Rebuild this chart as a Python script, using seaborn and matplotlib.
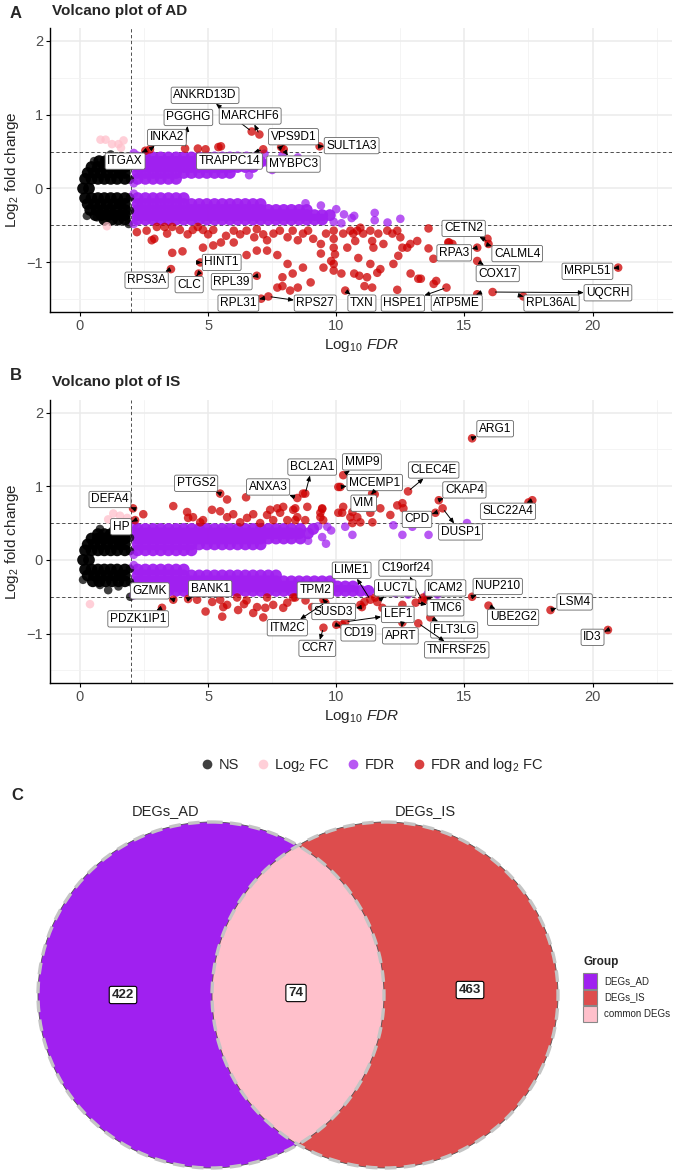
"""Volcano plots for AD / IS and Venn diagram of shared DEGs."""

import matplotlib
matplotlib.use("Agg")
import matplotlib.pyplot as plt
import pandas as pd
import seaborn as sns
from matplotlib.lines import Line2D
from matplotlib.patches import Circle, Rectangle


# ---------------- data ----------------
GROUPS = ["NS", "Log2 FC", "FDR", "FDR and log2 FC"]
GROUP_COLORS = ["black", "pink", "#A020F0", "#CD0000"]
LEGEND_LABELS = ["NS", "Log$_2$ FC", "FDR", "FDR and log$_2$ FC"]

# panel A (AD): dense cloud as rows {log2FC: [log10 FDR, ...]}
AD_NS_ROWS = {
    0.0: [0.12, 0.35],
    0.13: [0.2, 0.45, 0.7, 0.95, 1.2, 1.45, 1.75],
    -0.13: [0.2, 0.45, 0.7, 0.95, 1.2, 1.45, 1.75],
    0.21: [0.3, 0.55, 0.8, 1.05, 1.3, 1.55, 1.75],
    -0.21: [0.3, 0.55, 0.8, 1.05, 1.3, 1.55, 1.75],
    0.29: [0.45, 0.7, 0.95, 1.2, 1.45, 1.75],
    -0.29: [0.4, 0.65, 0.9, 1.15, 1.4, 1.75],
    0.37: [0.75, 1.0, 1.3, 1.55, 1.75],
    -0.36: [0.6, 0.85, 1.1, 1.35, 1.6, 1.75],
    -0.42: [0.95, 1.25, 1.5, 1.75],
}
AD_NS_EXTRA = [(0.27, -0.37), (0.66, -0.39), (1.2, 0.46), (1.9, 0.43),
               (1.9, -0.48), (1.95, 0.12), (1.95, -0.12), (1.95, 0.3),
               (1.95, -0.3), (0.55, 0.37), (1.6, 0.44)]
AD_PINK = [(0.8, 0.66), (1.0, 0.66), (1.25, 0.6), (1.5, 0.6), (1.7, 0.65),
           (1.6, 0.55), (1.05, -0.51)]
AD_FDR_ROWS = {
    0.13: [2.25, 2.55, 2.85, 3.15, 3.45, 3.75],
    0.21: [2.25, 2.55, 2.85, 3.15, 3.45, 3.75, 4.05, 4.35, 4.65, 4.95, 5.25,
           5.55, 5.85],
    0.29: [2.25, 2.55, 2.85, 3.15, 3.45, 3.75, 4.05, 4.35, 4.65, 4.95, 5.25,
           5.55, 5.85, 6.15, 6.45, 6.75],
    0.36: [2.25, 2.55, 2.85, 3.15, 3.45, 3.75, 4.05, 4.35, 4.65, 4.95, 5.25,
           5.55, 5.85, 6.15, 6.45, 6.75, 7.05],
    0.42: [2.25, 2.55, 2.85, 3.15, 3.45, 3.75, 4.05, 4.35, 4.65, 4.95, 5.25,
           5.55, 5.85, 6.15, 6.5, 6.9],
    -0.13: [2.25, 2.55, 2.85, 3.15, 3.45, 3.75, 4.05],
    -0.21: [2.25, 2.55, 2.85, 3.15, 3.45, 3.75, 4.05, 4.35, 4.65, 4.95, 5.25,
            5.55, 5.85, 6.15, 6.45, 6.75, 7.05],
    -0.29: [2.25, 2.55, 2.85, 3.15, 3.45, 3.75, 4.05, 4.35, 4.65, 4.95, 5.25,
            5.55, 5.85, 6.15, 6.45, 6.75, 7.05, 7.35, 7.65, 7.95, 8.25, 8.55,
            8.85],
    -0.36: [2.25, 2.55, 2.85, 3.15, 3.45, 3.75, 4.05, 4.35, 4.65, 4.95, 5.25,
            5.55, 5.85, 6.15, 6.45, 6.75, 7.05, 7.35, 7.65, 7.95, 8.25, 8.55,
            8.85, 9.15, 9.45, 9.75],
    -0.42: [2.25, 2.55, 2.85, 3.15, 3.45, 3.75, 4.05, 4.35, 4.65, 4.95, 5.25,
            5.55, 5.85, 6.15, 6.45, 6.75, 7.05, 7.35, 7.65, 7.95, 8.25, 8.55,
            8.85, 9.15, 9.45],
}
AD_FDR_EXTRA = [(7.3, 0.35), (7.9, 0.45), (8.2, 0.33), (7.5, 0.25),
                (8.5, 0.42), (7.2, 0.47), (6.6, 0.18), (10.3, -0.35),
                (10.6, -0.4), (11.5, -0.33), (12.5, -0.41), (12.0, -0.46),
                (10.0, -0.28), (9.9, -0.45), (10.7, -0.37), (11.5, -0.43),
                (10.2, -0.47), (9.4, -0.23), (8.8, -0.2), (2.1, 0.48),
                (2.1, -0.48), (2.1, 0.07), (2.1, -0.07)]
AD_RED = [
    (2.73, 0.53), (2.55, 0.51), (4.1, 0.54), (4.6, 0.54), (4.9, 0.53),
    (5.4, 0.56), (5.5, 0.57), (6.7, 0.77), (7.0, 0.73), (7.15, 0.53),
    (7.85, 0.56), (7.95, 0.53), (9.35, 0.57),
    (2.22, -0.59), (2.6, -0.57), (2.9, -0.68), (2.8, -0.7), (3.0, -0.52),
    (3.3, -0.52), (3.6, -0.52), (3.4, -0.61), (3.6, -0.87), (4.0, -0.85),
    (3.9, -0.56), (4.2, -0.62), (4.4, -0.56), (4.6, -0.52), (4.8, -0.56),
    (5.0, -0.62), (5.2, -0.56), (4.8, -0.8), (5.2, -0.77), (5.5, -0.73),
    (4.7, -1.0), (5.7, -0.64), (6.0, -0.57), (6.25, -0.62), (6.5, -0.57),
    (6.8, -0.66), (6.9, -0.55), (7.15, -0.62), (6.0, -0.73), (6.5, -0.9),
    (6.9, -0.84), (7.3, -0.84), (7.7, -0.9), (7.3, -0.7), (7.55, -0.61),
    (7.8, -0.57), (8.1, -0.66), (8.3, -0.57), (8.5, -0.7), (8.7, -0.61),
    (8.9, -0.57), (9.1, -0.68), (9.4, -0.75), (9.6, -0.61), (9.9, -0.57),
    (8.1, -1.02), (7.9, -1.2), (8.3, -1.15), (8.7, -1.07), (7.7, -1.34),
    (7.9, -1.32), (8.2, -1.38), (8.5, -1.34), (9.0, -1.27), (9.4, -0.88),
    (9.5, -1.07), (9.8, -0.98), (9.9, -1.11), (3.55, -1.09), (4.63, -1.15),
    (6.9, -1.18), (7.07, -1.49), (7.35, -1.46), (9.9, -0.68), (9.9, -0.8),
    (9.95, -0.89), (9.9, -1.02), (10.27, -0.61), (10.43, -0.8),
    (10.55, -0.57), (10.66, -0.61), (10.74, -0.71), (10.82, -0.57),
    (10.94, -0.53), (11.05, -0.61), (11.33, -0.57), (11.4, -0.71),
    (11.45, -0.8), (11.64, -0.61), (11.84, -0.75), (11.99, -0.57),
    (12.19, -0.61), (12.38, -0.57), (12.5, -0.66), (12.58, -0.8),
    (12.77, -0.8), (12.89, -0.75), (13.16, -0.71), (13.6, -0.54),
    (13.6, -0.81), (13.79, -0.95), (14.37, -0.73), (14.53, -0.75),
    (15.16, -0.5), (10.86, -0.94), (11.33, -1.02), (11.72, -1.09),
    (12.23, -1.02), (12.42, -0.91), (10.2, -1.15), (10.7, -1.15),
    (10.9, -1.18), (11.2, -1.2), (11.1, -1.32), (11.4, -1.34), (11.6, -1.14),
    (12.9, -1.15), (13.2, -1.22), (13.3, -1.22), (13.8, -1.29),
    (13.9, -1.25), (14.3, -1.34), (10.35, -1.38), (12.38, -1.37),
    (15.5, -1.43), (15.9, -0.68), (15.94, -0.75), (15.5, -0.8),
    (15.5, -0.98), (16.1, -1.4), (17.3, -1.46), (21.0, -1.07), (14.4, -0.73),
]
AD_GENES = {
    "ANKRD13D": (6.7, 0.77), "PGGHG": (4.1, 0.54), "MARCHF6": (7.0, 0.73),
    "INKA2": (2.73, 0.53), "ITGAX": (2.55, 0.51), "VPS9D1": (7.85, 0.56),
    "SULT1A3": (9.35, 0.57), "TRAPPC14": (7.15, 0.53), "MYBPC3": (7.95, 0.53),
    "HINT1": (4.7, -1.0), "RPS3A": (3.55, -1.09), "CLC": (4.63, -1.15),
    "RPL39": (6.9, -1.18), "RPL31": (7.07, -1.49), "RPS27": (7.35, -1.46),
    "TXN": (10.35, -1.38), "HSPE1": (14.3, -1.34), "ATP5ME": (15.5, -1.43),
    "CETN2": (15.94, -0.72), "RPA3": (15.5, -0.8), "CALML4": (15.9, -0.76),
    "COX17": (15.5, -0.98), "MRPL51": (21.0, -1.07), "UQCRH": (16.1, -1.4),
    "RPL36AL": (17.3, -1.46),
}

# panel B (IS)
IS_NS_ROWS = {
    0.0: [0.12, 0.35],
    0.13: [0.2, 0.45, 0.7, 0.95, 1.2, 1.45, 1.75],
    -0.13: [0.2, 0.45, 0.7, 0.95, 1.2, 1.45, 1.75],
    0.21: [0.3, 0.55, 0.8, 1.05, 1.3, 1.55, 1.75],
    -0.21: [0.3, 0.55, 0.8, 1.05, 1.3, 1.55, 1.75],
    0.29: [0.45, 0.7, 0.95, 1.2, 1.45, 1.75],
    -0.29: [0.5, 0.75, 1.0, 1.25, 1.5, 1.75],
    0.35: [0.7, 0.95, 1.2, 1.5, 1.75],
}
IS_NS_EXTRA = [(0.12, -0.27), (0.78, -0.34), (1.1, -0.41), (0.78, 0.42),
               (1.96, -0.5), (1.3, 0.41), (1.7, 0.4), (1.95, 0.12),
               (1.95, -0.12), (1.95, 0.3), (1.95, -0.3), (1.5, -0.36)]
IS_PINK = [(1.3, 0.63), (1.56, 0.6), (1.84, 0.57), (1.1, 0.55), (0.39, -0.6)]
IS_FDR_ROWS = {
    0.13: [2.25, 2.55, 2.85, 3.15, 3.45, 3.75, 4.05, 4.35],
    0.21: [2.25, 2.55, 2.85, 3.15, 3.45, 3.75, 4.05, 4.35, 4.65, 4.95, 5.25,
           5.55, 5.85, 6.15, 6.45, 6.75, 7.05],
    0.29: [2.25, 2.55, 2.85, 3.15, 3.45, 3.75, 4.05, 4.35, 4.65, 4.95, 5.25,
           5.55, 5.85, 6.15, 6.45, 6.75, 7.05, 7.35, 7.65, 7.95, 8.25, 8.6],
    0.36: [2.25, 2.55, 2.85, 3.15, 3.45, 3.75, 4.05, 4.35, 4.65, 4.95, 5.25,
           5.55, 5.85, 6.15, 6.45, 6.75, 7.05, 7.35, 7.65, 7.95, 8.25, 8.55,
           8.9],
    0.42: [2.25, 2.55, 2.85, 3.15, 3.45, 3.75, 4.05, 4.35, 4.65, 4.95, 5.25,
           5.55, 5.85, 6.15, 6.45, 6.75, 7.05, 7.35, 7.65, 7.95, 8.25, 8.6,
           9.1],
    -0.13: [2.25, 2.55, 2.85, 3.15, 3.45, 3.75, 4.05],
    -0.21: [2.25, 2.55, 2.85, 3.15, 3.45, 3.75, 4.05, 4.35, 4.65, 4.95, 5.25,
            5.55, 5.85, 6.15, 6.45, 6.75, 7.05, 7.35, 7.65],
    -0.29: [2.25, 2.55, 2.85, 3.15, 3.45, 3.75, 4.05, 4.35, 4.65, 4.95, 5.25,
            5.55, 5.85, 6.15, 6.45, 6.75, 7.05, 7.35, 7.65, 7.95, 8.25, 8.55,
            8.85, 9.15, 9.45, 9.75],
    -0.36: [2.25, 2.55, 2.85, 3.15, 3.45, 3.75, 4.05, 4.35, 4.65, 4.95, 5.25,
            5.55, 5.85, 6.15, 6.45, 6.75, 7.05, 7.35, 7.65, 7.95, 8.25, 8.55,
            8.85, 9.15, 9.45, 9.75, 10.05, 10.35, 10.65],
    -0.42: [2.25, 2.55, 2.85, 3.15, 3.45, 3.75, 4.05, 4.35, 4.65, 4.95, 5.25,
            5.55, 5.85, 6.15, 6.45, 6.75, 7.05, 7.35, 7.65, 7.95, 8.25, 8.55,
            8.85, 9.15, 9.45, 9.75, 10.05, 10.35, 10.65, 10.95, 11.25],
}
IS_FDR_EXTRA = [(9.65, 0.45), (10.35, 0.45), (10.63, 0.34), (12.23, 0.47),
                (12.58, 0.34), (12.97, 0.45), (13.6, 0.34), (15.1, 0.5),
                (9.45, 0.31), (9.6, 0.22), (9.8, 0.4), (9.3, 0.46),
                (8.9, 0.26), (12.8, -0.47), (13.55, -0.47), (13.95, -0.47),
                (11.9, -0.33), (12.3, -0.45), (11.6, -0.42), (2.1, 0.48),
                (2.1, -0.48), (2.1, 0.07), (2.1, -0.07)]
IS_RED = [
    (2.07, 0.7), (2.15, 0.54), (2.47, 0.62), (3.64, 0.73), (4.18, 0.65),
    (4.22, 0.57), (4.41, 0.58), (4.69, 0.51), (4.8, 0.54), (5.47, 0.9),
    (5.74, 0.82), (5.15, 0.68), (5.47, 0.66), (5.74, 0.58), (5.98, 0.62),
    (6.25, 0.51), (6.52, 0.57), (6.76, 0.62), (6.48, 0.85), (7.03, 0.5),
    (7.3, 0.61), (7.42, 0.68), (7.7, 0.7), (7.93, 0.72), (7.54, 0.54),
    (7.81, 0.64), (8.09, 0.54), (8.32, 0.68), (8.48, 0.58), (8.48, 0.84),
    (8.79, 0.9), (8.7, 0.9), (9.38, 0.58), (9.45, 0.69), (10.08, 0.99),
    (10.08, 0.64), (10.27, 1.15), (10.16, 0.99), (11.4, 0.9), (11.5, 0.89),
    (12.8, 0.93), (14.0, 0.81), (13.87, 0.64), (14.15, 0.7), (17.65, 0.81),
    (17.5, 0.78), (15.3, 1.65), (8.4, 0.7), (9.45, 0.7), (9.38, 0.64),
    (10.27, 0.72), (10.23, 0.64), (10.55, 0.58), (10.63, 0.65),
    (10.82, 0.58), (10.94, 0.51), (11.33, 0.64), (11.41, 0.51), (11.72, 0.7),
    (12.11, 0.61), (12.38, 0.74), (12.58, 0.77), (12.62, 0.7), (8.4, 0.54),
    (8.87, 0.72), (8.79, 0.54), (9.49, 0.54), (10.63, 0.5),
    (3.64, -0.54), (4.22, -0.53), (3.2, -0.65), (4.57, -0.54), (5.16, -0.57),
    (5.47, -0.54), (5.59, -0.64), (5.74, -0.61), (5.55, -0.77),
    (6.13, -0.51), (6.17, -0.68), (6.76, -0.72), (6.91, -0.64),
    (7.23, -0.65), (7.3, -0.51), (7.54, -0.61), (7.93, -0.65), (8.09, -0.58),
    (8.32, -0.51), (7.15, -0.78), (9.5, -0.54), (9.57, -0.58), (9.06, -0.64),
    (9.5, -0.92), (10.0, -0.88), (8.4, -0.51), (11.0, -0.64), (11.33, -0.54),
    (11.52, -0.51), (11.6, -0.57), (10.23, -0.88), (11.8, -0.65),
    (12.58, -0.61), (12.58, -0.85), (13.1, -0.58), (13.4, -0.51),
    (13.55, -0.54), (13.67, -0.78), (13.2, -0.86), (15.3, -0.5),
    (15.94, -0.62), (18.36, -0.68), (20.6, -0.95), (10.35, -0.84),
    (10.94, -0.61), (11.1, -0.57), (13.35, -0.55), (6.5, -0.55),
    (8.8, -0.55), (4.9, -0.7), (6.4, -0.6),
]
IS_GENES = {
    "DEFA4": (2.07, 0.7), "HP": (2.15, 0.54), "PTGS2": (5.47, 0.9),
    "ANXA3": (8.48, 0.84), "BCL2A1": (8.79, 0.9), "MMP9": (10.27, 1.15),
    "MCEMP1": (10.16, 0.99), "VIM": (11.4, 0.9), "CLEC4E": (12.8, 0.93),
    "CKAP4": (14.0, 0.81), "CPD": (13.87, 0.64), "DUSP1": (14.15, 0.7),
    "SLC22A4": (17.65, 0.81), "ARG1": (15.3, 1.65), "GZMK": (3.64, -0.54),
    "BANK1": (4.22, -0.53), "PDZK1IP1": (3.2, -0.65), "TPM2": (9.5, -0.54),
    "SUSD3": (11.0, -0.64), "ITM2C": (9.57, -0.58), "CCR7": (9.5, -0.92),
    "LIME1": (11.33, -0.54), "C19orf24": (13.35, -0.55),
    "LUC7L": (11.6, -0.57), "ICAM2": (13.55, -0.54), "NUP210": (15.3, -0.5),
    "TMC6": (13.1, -0.58), "LEF1": (10.35, -0.84), "CD19": (10.0, -0.88),
    "APRT": (12.58, -0.85), "FLT3LG": (13.67, -0.78),
    "TNFRSF25": (13.2, -0.86), "UBE2G2": (15.94, -0.62),
    "LSM4": (18.36, -0.68), "ID3": (20.6, -0.95),
}

# Venn counts
VENN_SETS = ["DEGs_AD", "DEGs_IS"]
VENN_COUNTS = [422, 74, 463]  # AD only, shared, IS only
VENN_GROUPS = ["DEGs_AD", "DEGs_IS", "common DEGs"]
VENN_COLORS = ["#A020F0", "#DD4D4D", "#FFC0CB"]

# ---------------- label placement (layout) ----------------
AD_LABEL_POS = {
    "ANKRD13D": (4.88, 1.26), "PGGHG": (4.23, 0.96), "MARCHF6": (6.64, 0.98),
    "INKA2": (3.39, 0.69), "ITGAX": (1.76, 0.37), "VPS9D1": (8.33, 0.7),
    "SULT1A3": (10.6, 0.58), "TRAPPC14": (5.83, 0.37), "MYBPC3": (8.33, 0.33),
    "HINT1": (5.53, -1.0), "RPS3A": (2.6, -1.24), "CLC": (4.26, -1.3),
    "RPL39": (5.92, -1.26), "RPL31": (6.18, -1.55), "RPS27": (9.18, -1.55),
    "TXN": (11.0, -1.55), "HSPE1": (12.6, -1.55), "ATP5ME": (14.7, -1.55),
    "CETN2": (14.97, -0.54), "RPA3": (14.6, -0.87), "CALML4": (17.06, -0.88),
    "COX17": (16.3, -1.15), "MRPL51": (19.8, -1.12), "UQCRH": (20.6, -1.41),
    "RPL36AL": (18.4, -1.55),
}
IS_LABEL_POS = {
    "DEFA4": (1.17, 0.82), "HP": (1.6, 0.45), "PTGS2": (4.53, 1.04),
    "ANXA3": (7.34, 0.99), "BCL2A1": (9.06, 1.26), "MMP9": (11.0, 1.33),
    "MCEMP1": (11.5, 1.05), "VIM": (11.07, 0.77), "CLEC4E": (13.8, 1.22),
    "CKAP4": (15.0, 0.95), "CPD": (13.15, 0.55), "DUSP1": (14.85, 0.38),
    "SLC22A4": (16.7, 0.66), "ARG1": (16.2, 1.78), "GZMK": (2.73, -0.42),
    "BANK1": (5.08, -0.39), "PDZK1IP1": (2.27, -0.8), "TPM2": (9.18, -0.41),
    "SUSD3": (9.9, -0.7), "ITM2C": (8.09, -0.92), "CCR7": (9.26, -1.2),
    "LIME1": (10.6, -0.14), "C19orf24": (12.7, -0.11), "LUC7L": (12.3, -0.38),
    "ICAM2": (14.26, -0.38), "NUP210": (16.3, -0.36), "TMC6": (14.26, -0.65),
    "LEF1": (12.4, -0.74), "CD19": (10.86, -0.99), "APRT": (12.5, -1.03),
    "FLT3LG": (14.6, -0.95), "TNFRSF25": (14.7, -1.22),
    "UBE2G2": (16.9, -0.78), "LSM4": (19.3, -0.57), "ID3": (20.0, -1.05),
}

W, H = 675, 1170


def build_frame(ns_rows, ns_extra, pink, fdr_rows, fdr_extra, red):
    """Long table: dense cloud rows get kind 'cloud', single genes 'point'."""
    recs = []
    for y, xs in ns_rows.items():
        recs += [(x, y, "NS", "cloud") for x in xs]
    recs += [(x, y, "NS", "point") for x, y in ns_extra]
    recs += [(x, y, "Log2 FC", "point") for x, y in pink]
    for y, xs in fdr_rows.items():
        recs += [(x, y, "FDR", "cloud") for x in xs]
    recs += [(x, y, "FDR", "point") for x, y in fdr_extra]
    recs += [(x, y, "FDR and log2 FC", "point") for x, y in red]
    return pd.DataFrame(recs, columns=["log10_fdr", "log2fc", "group", "kind"])


def volcano(ax, df, genes, label_pos):
    palette = dict(zip(GROUPS, GROUP_COLORS))
    # the dense core is thousands of overlapping genes -> nearly opaque
    cloud = df[df["kind"] == "cloud"]
    single = df[df["kind"] == "point"]
    sns.scatterplot(data=cloud, x="log10_fdr", y="log2fc", hue="group",
                    palette=palette, hue_order=GROUPS, s=72, alpha=0.95,
                    linewidth=0, legend=False, ax=ax, zorder=2)
    sns.scatterplot(data=single, x="log10_fdr", y="log2fc", hue="group",
                    palette=palette, hue_order=GROUPS, s=38, alpha=0.75,
                    linewidth=0, legend=False, ax=ax, zorder=2)
    ax.set_xlim(-1.17, 23.1)
    ax.set_ylim(-1.67, 2.17)
    ax.set_xticks([0, 5, 10, 15, 20])
    ax.set_xticks([2.5, 7.5, 12.5, 17.5, 22.5], minor=True)
    ax.set_yticks([-1, 0, 1, 2])
    ax.set_yticks([-1.5, -0.5, 0.5, 1.5], minor=True)
    ax.set_yticklabels(["\u22121", "0", "1", "2"])
    ax.grid(True, which="major", color="#EBEBEB", lw=1.1, zorder=0)
    ax.grid(True, which="minor", color="#F2F2F2", lw=0.6, zorder=0)
    ax.set_facecolor("white")
    for side in ["top", "right"]:
        ax.spines[side].set_visible(False)
    for side in ["left", "bottom"]:
        ax.spines[side].set_color("black")
        ax.spines[side].set_linewidth(1.0)
    ax.tick_params(which="major", length=3, width=0.8, color="black",
                   labelcolor="#4D4D4D", labelsize=10.5, pad=2,
                   bottom=True, left=True)
    ax.tick_params(which="minor", length=0)
    ax.axvline(2, color="#333333", lw=0.6, ls=(0, (4, 3)), zorder=1.5)
    for yy in (-0.5, 0.5):
        ax.axhline(yy, color="#333333", lw=0.6, ls=(0, (4, 3)), zorder=1.5)
    ax.set_xlabel("Log$_{10}$ $\\mathit{FDR}$", fontsize=11, labelpad=3)
    ax.set_ylabel("Log$_2$ fold change", fontsize=11, labelpad=4)
    for gene, (gx, gy) in genes.items():
        lx, ly = label_pos[gene]
        ax.annotate(gene, xy=(gx, gy), xytext=(lx, ly), ha="center",
                    va="center", fontsize=8.6, color="black", zorder=6,
                    bbox=dict(boxstyle="round,pad=0.18,rounding_size=0.15",
                              fc="white", ec="#666666", lw=0.6),
                    arrowprops=dict(arrowstyle="<|-,head_length=0.35,head_width=0.15",
                                    color="black", lw=0.7, shrinkA=0,
                                    shrinkB=2))


sns.set_theme(style="whitegrid")
plt.rcParams["font.family"] = ["Liberation Sans", "DejaVu Sans"]
plt.rcParams["mathtext.fontset"] = "custom"
plt.rcParams["mathtext.rm"] = "Liberation Sans"
plt.rcParams["mathtext.it"] = "Liberation Sans:italic"
plt.rcParams["mathtext.bf"] = "Liberation Sans:bold"

fig = plt.figure(figsize=(W / 100, H / 100), dpi=100)
fig.patch.set_facecolor("white")

ax_a = fig.add_axes([50 / W, 1 - 312 / H, 622 / W, 284 / H])
ax_b = fig.add_axes([50 / W, 1 - 683 / H, 622 / W, 283 / H])

df_ad = build_frame(AD_NS_ROWS, AD_NS_EXTRA, AD_PINK, AD_FDR_ROWS,
                    AD_FDR_EXTRA, AD_RED)
df_is = build_frame(IS_NS_ROWS, IS_NS_EXTRA, IS_PINK, IS_FDR_ROWS,
                    IS_FDR_EXTRA, IS_RED)
volcano(ax_a, df_ad, AD_GENES, AD_LABEL_POS)
volcano(ax_b, df_is, IS_GENES, IS_LABEL_POS)

fig.text(10 / W, 1 - 13 / H, "A", fontsize=12, weight="bold", va="center")
fig.text(52 / W, 1 - 11 / H, "Volcano plot of AD", fontsize=11,
         weight="bold", va="center")
fig.text(10 / W, 1 - 375 / H, "B", fontsize=12, weight="bold", va="center")
fig.text(52 / W, 1 - 382 / H, "Volcano plot of IS", fontsize=11,
         weight="bold", va="center")

handles = [Line2D([], [], marker="o", ls="", color=c, alpha=0.75,
                  markersize=7, markeredgewidth=0) for c in GROUP_COLORS]
fig.legend(handles, LEGEND_LABELS, loc="center", ncol=4, frameon=False,
           bbox_to_anchor=(371 / W, 1 - 765 / H), fontsize=10.5,
           handletextpad=0.2, columnspacing=1.0, handlelength=1.2)

# ---------------- panel C: Venn ----------------
ax_c = fig.add_axes([0, 0, 1, 370 / H])
ax_c.set_xlim(0, W)
ax_c.set_ylim(H, 800)
ax_c.axis("off")

centers = [(211, 995), (385, 995)]
radius = 173
left = Circle(centers[0], radius, fc=VENN_COLORS[0], ec="none", zorder=1)
right = Circle(centers[1], radius, fc=VENN_COLORS[1], ec="none", zorder=1)
ax_c.add_patch(left)
ax_c.add_patch(right)
lens = Circle(centers[1], radius, fc=VENN_COLORS[2], ec="none", zorder=2)
ax_c.add_patch(lens)
lens.set_clip_path(left)
for c in centers:
    ax_c.add_patch(Circle(c, radius, fc="none", ec="#555555", lw=0.6,
                          zorder=3))
    ax_c.add_patch(Circle(c, radius, fc="none", ec="#C4C4C4", lw=2.4,
                          ls=(0, (3.5, 2.2)), zorder=4))

for (tx, ty), n in zip([(123, 995), (296, 993), (470, 990)], VENN_COUNTS):
    ax_c.text(tx, ty, str(n), ha="center", va="center", fontsize=9.5,
              weight="bold", zorder=5,
              bbox=dict(boxstyle="round,pad=0.2,rounding_size=0.15",
                        fc="white", ec="black", lw=0.8))
for (tx, ty), name in zip([(166, 811), (425, 811)], VENN_SETS):
    ax_c.text(tx, ty, name, ha="center", va="center", fontsize=10.5)

fig.text(11 / W, 1 - 795 / H, "C", fontsize=12, weight="bold", va="center")

ax_c.text(583, 962, "Group", fontsize=8.5, weight="bold", va="center")
for i, (name, col) in enumerate(zip(VENN_GROUPS, VENN_COLORS)):
    y0 = 973 + i * 16.5
    ax_c.add_patch(Rectangle((583, y0), 14, 15.5, fc=col, ec="#888888",
                             lw=0.8, zorder=5))
    ax_c.text(604, y0 + 8, name, fontsize=7, va="center")

fig.savefig("out.png", dpi=100, facecolor="white")
